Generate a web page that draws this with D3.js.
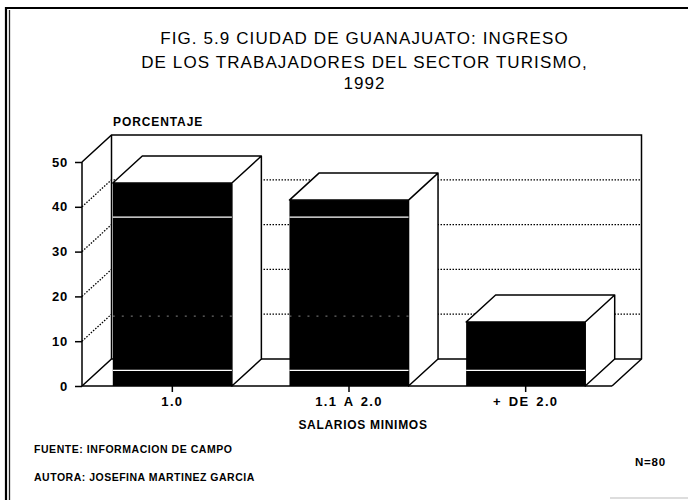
<!DOCTYPE html>
<html>
<head>
<meta charset="utf-8">
<script src="https://cdn.jsdelivr.net/npm/d3@7"></script>
<style>
  html, body { margin: 0; background: #fff; }
  text { font-family: "Liberation Sans", Arial, sans-serif; fill: #000; }
  .bold { font-weight: bold; }
</style>
</head>
<body>
<svg id="chart" style="display:block"></svg>
<script>
const categories = ["1.0", "1.1 A 2.0", "+ DE 2.0"];
const values = [45.3, 41.5, 14.3];
const yTicks = [0, 10, 20, 30, 40, 50];
const gridValues = [10, 20, 30, 40];
const whiteLines = [3.5, 37.7];
const dashedWhiteLines = [15.6];
const titleLines = [
  "FIG. 5.9 CIUDAD DE GUANAJUATO: INGRESO",
  "DE LOS TRABAJADORES DEL SECTOR TURISMO,",
  "1992"
];

const w = 688, h = 500;
const dx = 29.5, dy = -27;

const svg = d3.select("#chart").attr("width", w).attr("height", h);

let xScale = d3.scaleBand()
  .domain(categories)
  .range([84, 614])
  .paddingInner(0.326)
  .paddingOuter(0.163);

let yScale = d3.scaleLinear()
  .domain([0, 50])
  .range([386, 162]);

const x0 = 82, xEnd = 612;
const line = d3.line();

// page border, scanned frame
svg.append("path").attr("d", "M6 500V8H688").attr("fill", "none").attr("stroke", "#000").attr("stroke-width", 2.2);
svg.append("path").attr("d", "M9.5 500V10").attr("fill", "none").attr("stroke", "#222").attr("stroke-width", 1.3);
svg.append("path").attr("d", "M610 498H688").attr("fill", "none").attr("stroke", "#bbb").attr("stroke-width", 1);

// back wall, side wall and floor
const frame = svg.append("g").attr("fill", "none").attr("stroke", "#000").attr("stroke-width", 1.5);
frame.append("path").attr("d", line([
  [x0, yScale(50)], [x0 + dx, yScale(50) + dy], [xEnd + dx, yScale(50) + dy],
  [xEnd + dx, yScale(0) + dy], [xEnd, yScale(0)]
]));
frame.append("path").attr("d", line([[x0, yScale(0)], [x0 + dx, yScale(0) + dy], [xEnd + dx, yScale(0) + dy]]));
frame.append("path").attr("d", line([[x0 + dx, yScale(50) + dy], [x0 + dx, yScale(0) + dy]]));
frame.append("path").attr("d", line([[x0, yScale(50)], [x0, yScale(0)], [xEnd, yScale(0)]]));

// dotted grid on both walls
const grid = svg.append("g").attr("fill", "none").attr("stroke", "#000")
  .attr("stroke-width", 1.3).attr("stroke-dasharray", "1.5 1.5");
grid.selectAll("path")
  .data(gridValues)
  .enter()
  .append("path")
  .attr("d", d => line([[x0, yScale(d)], [x0 + dx, yScale(d) + dy], [xEnd + dx, yScale(d) + dy]]));

// bars
const bars = svg.selectAll("g.bar")
  .data(categories.map((c, i) => ({c: c, v: values[i]})))
  .enter()
  .append("g")
  .attr("class", "bar");

bars.append("path")
  .attr("fill", "#fff").attr("stroke", "#000").attr("stroke-width", 1.5).attr("stroke-linejoin", "round")
  .attr("d", d => {
    let l = xScale(d.c), r = l + xScale.bandwidth(), t = yScale(d.v), b = yScale(0);
    return line([[l, t], [l + dx, t + dy], [r + dx, t + dy], [r + dx, b + dy], [r, b], [r, t], [l, t]]) + "Z"
      + line([[r, t], [r + dx, t + dy]]);
  });

bars.append("rect")
  .attr("fill", "#000")
  .attr("x", d => xScale(d.c))
  .attr("y", d => yScale(d.v))
  .attr("width", xScale.bandwidth())
  .attr("height", d => yScale(0) - yScale(d.v));

bars.selectAll("line.white")
  .data(d => whiteLines.filter(v => v < d.v).map(v => ({c: d.c, v: v})))
  .enter()
  .append("line")
  .attr("x1", d => xScale(d.c))
  .attr("x2", d => xScale(d.c) + xScale.bandwidth())
  .attr("y1", d => yScale(d.v))
  .attr("y2", d => yScale(d.v))
  .attr("stroke", "#fff").attr("stroke-width", 1.3);

bars.selectAll("line.dash")
  .data(d => dashedWhiteLines.filter(v => v < d.v).map(v => ({c: d.c, v: v})))
  .enter()
  .append("line")
  .attr("x1", d => xScale(d.c))
  .attr("x2", d => xScale(d.c) + xScale.bandwidth())
  .attr("y1", d => yScale(d.v))
  .attr("y2", d => yScale(d.v))
  .attr("stroke", "#bbb").attr("stroke-width", 0.7).attr("stroke-dasharray", "2 7");

// axes
let yAxis = d3.axisLeft(yScale).tickValues(yTicks).tickSize(7).tickPadding(7);
let xAxis = d3.axisBottom(xScale).tickSize(6).tickPadding(5);

const ya = svg.append("g").attr("transform", `translate(${x0}, 0)`).call(yAxis);
const xa = svg.append("g").attr("transform", `translate(0, ${yScale(0)})`).call(xAxis);
ya.select(".domain").remove();
xa.select(".domain").remove();
ya.selectAll("line").attr("stroke", "#000").attr("stroke-width", 1.5);
xa.selectAll("line").attr("stroke", "#000").attr("stroke-width", 1.5);
ya.selectAll("text").attr("class", "bold").style("font-size", "13px").style("font-family", null).attr("letter-spacing", 0.8);
xa.selectAll("text").attr("class", "bold").style("font-size", "13px").style("font-family", null)
  .attr("letter-spacing", 1.3).attr("word-spacing", 2);

// title
svg.append("g").selectAll("text")
  .data(titleLines)
  .enter()
  .append("text")
  .attr("x", 364.5)
  .attr("y", (d, i) => [44, 68, 89][i])
  .attr("text-anchor", "middle")
  .attr("font-size", 17)
  .attr("letter-spacing", 1.1)
  .text(d => d);

const note = (x, y, s, size, spacing, anchor) => svg.append("text")
  .attr("class", "bold")
  .attr("x", x).attr("y", y)
  .attr("font-size", size)
  .attr("letter-spacing", spacing)
  .attr("text-anchor", anchor || "start")
  .text(s);

note(113, 126, "PORCENTAJE", 12, 0.9);
note(363, 428.5, "SALARIOS MINIMOS", 12, 0.7, "middle");
note(34, 453, "FUENTE: INFORMACION DE CAMPO", 10.5, 0.55);
note(34, 481, "AUTORA: JOSEFINA MARTINEZ GARCIA", 10.5, 0.5);
note(666, 466, "N=80", 11.5, 0.8, "end");
</script>
</body>
</html>
